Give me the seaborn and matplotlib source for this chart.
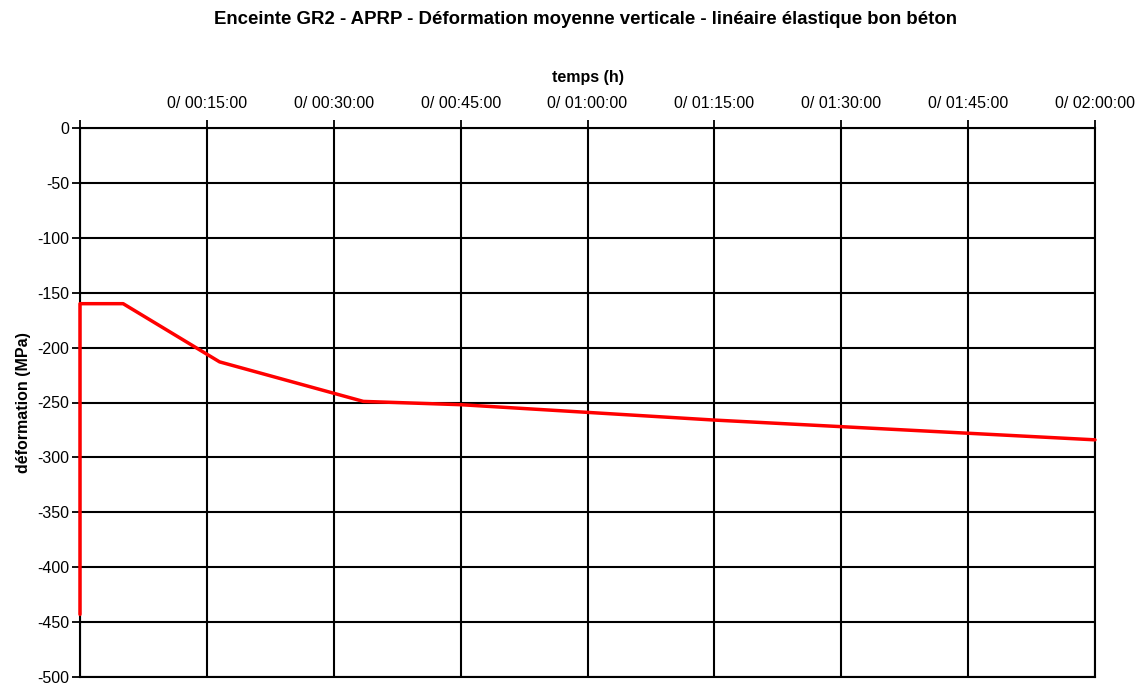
import matplotlib
matplotlib.use("Agg")
import matplotlib.pyplot as plt
import seaborn as sns
import pandas as pd

# data: time in minutes, deformation in MPa
time_min = [0, 0, 5.1, 16.5, 33.5, 45, 60, 75, 90, 105, 120]
deformation = [-443, -160, -160, -213, -249, -252, -259, -266, -272, -278, -284]

x_ticks = [0, 15, 30, 45, 60, 75, 90, 105, 120]
x_tick_labels = ["", "0/ 00:15:00", "0/ 00:30:00", "0/ 00:45:00", "0/ 01:00:00",
                 "0/ 01:15:00", "0/ 01:30:00", "0/ 01:45:00", "0/ 02:00:00"]
y_ticks = [0, -50, -100, -150, -200, -250, -300, -350, -400, -450, -500]

sns.set_theme(style="white")
plt.rcParams['font.family'] = ['Liberation Sans', 'DejaVu Sans']
plt.rcParams['text.color'] = 'black'
plt.rcParams['axes.labelcolor'] = 'black'
plt.rcParams['xtick.color'] = 'black'
plt.rcParams['ytick.color'] = 'black'

df = pd.DataFrame({"t": time_min, "d": deformation})

fig = plt.figure(figsize=(11.42, 6.85), dpi=100)
ax = fig.add_axes([80/1142, 1 - 677/685, (1095-80)/1142, (677-128)/685])

sns.lineplot(data=df, x="t", y="d", ax=ax, sort=False, estimator=None,
             color="#ff0000", linewidth=2.5, zorder=5)
for ln in ax.lines:
    ln.set_clip_on(False)

ax.set_xlim(0, 120)
ax.set_ylim(-500, 0)
ax.set_xticks(x_ticks)
ax.set_xticklabels(x_tick_labels, fontsize=11.5)
ax.set_yticks(y_ticks)
ax.set_yticklabels([str(v) for v in y_ticks], fontsize=11.5)
ax.xaxis.tick_top()
ax.xaxis.set_label_position("top")
ax.tick_params(axis="x", direction="out", length=6, width=1.3, color="black",
               pad=6, top=True, bottom=False)
ax.tick_params(axis="y", direction="out", length=6, width=1.3, color="black",
               pad=2, left=True)
ax.grid(True, color="black", linewidth=1.5)
for s in ax.spines.values():
    s.set_color("black")
    s.set_linewidth(1.5)

ax.set_xlabel("temps (h)", fontsize=11.5, fontweight="bold", labelpad=10)
ax.set_ylabel("déformation (MPa)", fontsize=11.5, fontweight="bold", labelpad=4)

fig.text(585/1142, 1 - 19/685, "Enceinte GR2 - APRP - Déformation moyenne verticale - linéaire élastique bon béton",
         ha="center", va="center", fontsize=13.4, fontweight="bold", color="black")

fig.savefig("out.png", dpi=100)
